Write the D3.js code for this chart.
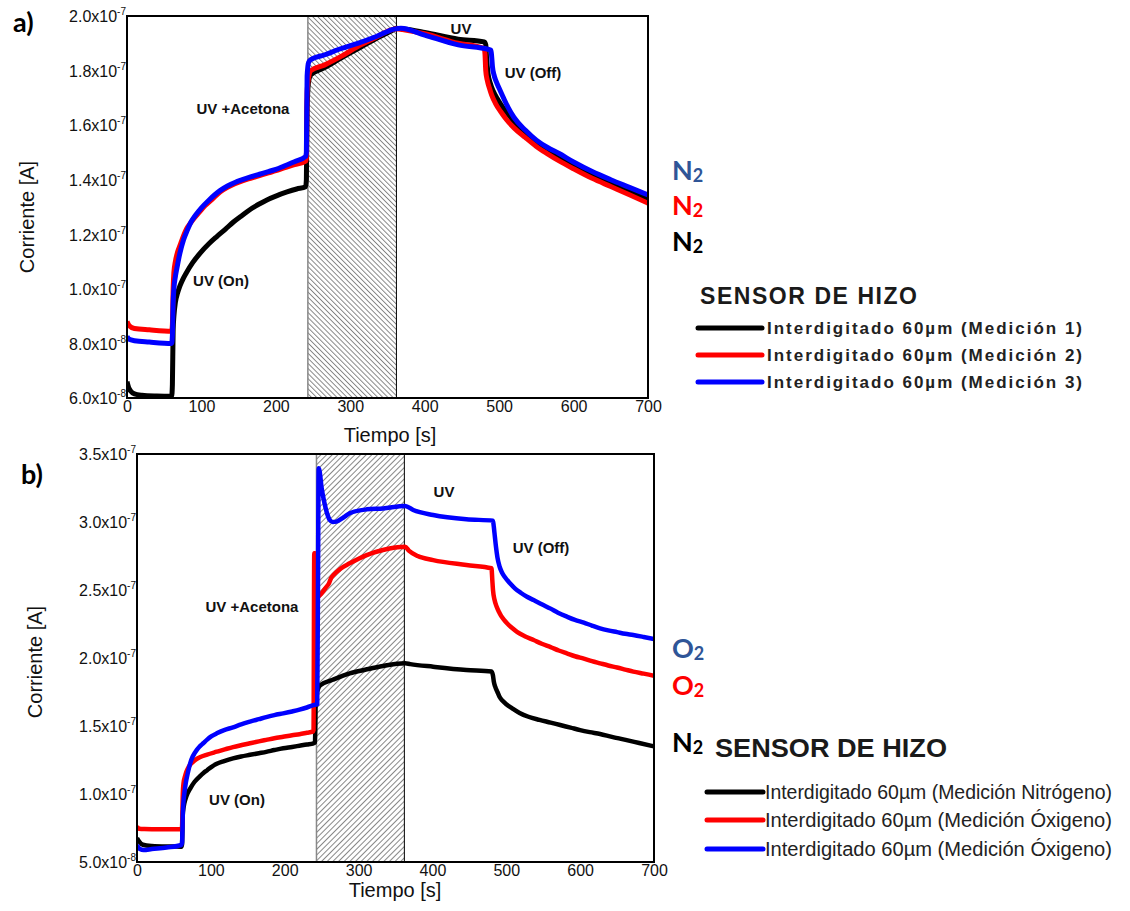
<!DOCTYPE html>
<html><head><meta charset="utf-8">
<script src="https://cdn.jsdelivr.net/npm/d3@7"></script>
<style>
html,body{margin:0;padding:0;background:#fff;}
svg{display:block;font-family:"Liberation Sans",Arial,sans-serif;}
</style></head>
<body><svg id="c" width="1130" height="911"></svg>
<script>
// ---------- DATA (currents in units of 1e-7 A, time in s) ----------
const xTicks = [0,100,200,300,400,500,600,700];
const yTicksA = [0.6,0.8,1.0,1.2,1.4,1.6,1.8,2.0];
const yMantA  = ["6.0x10","8.0x10","1.0x10","1.2x10","1.4x10","1.6x10","1.8x10","2.0x10"];
const yExpA   = ["-8","-8","-7","-7","-7","-7","-7","-7"];
const yTicksB = [0.5,1.0,1.5,2.0,2.5,3.0,3.5];
const yMantB  = ["5.0x10","1.0x10","1.5x10","2.0x10","2.5x10","3.0x10","3.5x10"];
const yExpB   = ["-8","-7","-7","-7","-7","-7","-7"];
const hatchSpan = [243, 362];

// Panel a
const aMed1 = [[0,0.66],[2,0.64],[5,0.625],[10,0.615],[20,0.61],[40,0.607],[60,0.606],[61,0.65],[62,0.85],[63,0.90],[65,0.95],[68,0.985],[71,1.01],[75,1.035],[80,1.06],[88,1.095],[98,1.13],[110,1.165],[120,1.19],[132,1.218],[143,1.245],[155,1.27],[165,1.29],[177,1.31],[188,1.326],[200,1.34],[215,1.355],[228,1.366],[240,1.374],[241,1.40],[242,1.66],[244,1.76],[247,1.785],[265,1.81],[287,1.845],[310,1.88],[333,1.915],[355,1.945],[362,1.955],[370,1.953],[400,1.94],[445,1.915],[480,1.905],[482,1.895],[483,1.85],[485,1.79],[488,1.755],[492,1.725],[498,1.695],[505,1.665],[512,1.64],[520,1.612],[535,1.57],[550,1.535],[565,1.508],[580,1.485],[600,1.455],[625,1.42],[650,1.39],[675,1.36],[700,1.33]];
const aMed2 = [[0,0.88],[3,0.865],[10,0.855],[30,0.85],[60,0.845],[61,0.87],[62,1.0],[63,1.06],[65,1.1],[68,1.135],[72,1.165],[76,1.195],[80,1.22],[85,1.24],[90,1.258],[97,1.28],[105,1.305],[115,1.33],[125,1.355],[135,1.372],[145,1.385],[155,1.396],[166,1.405],[178,1.415],[190,1.425],[200,1.433],[211,1.443],[225,1.455],[240,1.468],[241,1.48],[242,1.72],[244,1.775],[247,1.80],[265,1.82],[287,1.851],[310,1.888],[332,1.918],[355,1.949],[362,1.953],[370,1.95],[400,1.935],[445,1.90],[475,1.885],[480,1.88],[481,1.86],[482,1.80],[484,1.765],[487,1.735],[490,1.71],[495,1.68],[502,1.65],[510,1.62],[520,1.59],[535,1.555],[550,1.522],[565,1.495],[580,1.47],[600,1.44],[625,1.405],[650,1.375],[675,1.345],[700,1.314]];
const aMed3 = [[0,0.825],[3,0.815],[10,0.81],[30,0.805],[60,0.80],[61,0.83],[62,0.95],[63,1.0],[65,1.045],[67,1.075],[71,1.13],[76,1.18],[81,1.215],[86,1.245],[92,1.27],[100,1.297],[110,1.325],[118,1.345],[125,1.36],[135,1.377],[145,1.39],[155,1.40],[166,1.41],[178,1.42],[190,1.43],[200,1.438],[211,1.45],[225,1.466],[240,1.485],[241,1.50],[242,1.78],[244,1.83],[247,1.84],[265,1.857],[287,1.88],[310,1.90],[335,1.925],[359,1.952],[368,1.955],[400,1.93],[445,1.894],[485,1.878],[489,1.875],[490,1.85],[491,1.815],[493,1.785],[496,1.76],[500,1.735],[505,1.705],[512,1.665],[520,1.628],[535,1.582],[550,1.545],[565,1.518],[580,1.497],[600,1.465],[625,1.43],[650,1.40],[675,1.372],[700,1.344]];

// Panel b
const bNitro = [[0,0.675],[3,0.65],[8,0.627],[20,0.618],[40,0.614],[60,0.613],[61,0.63],[62,0.85],[63,0.90],[64,0.93],[67,0.985],[72,1.04],[78,1.09],[85,1.13],[90,1.155],[95,1.175],[101,1.2],[108,1.222],[118,1.242],[130,1.262],[141,1.276],[153,1.288],[165,1.3],[175,1.31],[186,1.323],[198,1.336],[210,1.346],[220,1.355],[230,1.364],[239,1.373],[241,1.38],[242,1.70],[245,1.77],[248,1.80],[265,1.84],[288,1.887],[310,1.915],[333,1.941],[363,1.961],[370,1.955],[401,1.936],[446,1.912],[480,1.90],[482,1.87],[483,1.83],[485,1.789],[488,1.75],[491,1.713],[495,1.685],[500,1.66],[508,1.63],[518,1.596],[530,1.568],[545,1.545],[560,1.525],[573,1.507],[587,1.488],[600,1.47],[613,1.455],[627,1.441],[643,1.42],[660,1.40],[680,1.375],[700,1.35]];
const bOxi1 = [[0,0.76],[3,0.745],[10,0.742],[30,0.74],[60,0.74],[61,0.76],[62,1.0],[63,1.08],[65,1.13],[67,1.165],[70,1.2],[73,1.222],[76,1.237],[80,1.255],[85,1.27],[95,1.29],[108,1.311],[120,1.33],[130,1.345],[142,1.36],[153,1.373],[165,1.387],[175,1.398],[186,1.41],[198,1.421],[210,1.432],[220,1.44],[230,1.45],[238,1.458],[239,1.47],[240,2.77],[241,2.77],[242,2.46],[245,2.45],[250,2.476],[256,2.52],[260,2.55],[263,2.59],[266,2.61],[275,2.655],[288,2.696],[311,2.757],[333,2.794],[363,2.818],[368,2.79],[380,2.75],[401,2.72],[446,2.684],[480,2.66],[481,2.58],[482,2.50],[484,2.43],[487,2.377],[490,2.34],[493,2.31],[497,2.28],[501,2.255],[508,2.22],[515,2.19],[525,2.16],[537,2.132],[548,2.105],[560,2.08],[571,2.055],[582,2.034],[593,2.013],[605,1.995],[616,1.977],[627,1.961],[638,1.945],[650,1.93],[661,1.915],[672,1.90],[686,1.885],[700,1.87]];
const bOxi2 = [[0,0.625],[4,0.595],[9,0.588],[20,0.595],[40,0.607],[60,0.625],[61,0.64],[62,0.85],[63,0.95],[64,1.0],[66,1.08],[69,1.16],[72,1.226],[75,1.27],[78,1.30],[81,1.325],[85,1.35],[90,1.375],[95,1.40],[101,1.425],[108,1.446],[118,1.47],[130,1.49],[141,1.512],[153,1.532],[165,1.55],[175,1.565],[186,1.58],[198,1.593],[210,1.607],[220,1.62],[230,1.636],[239,1.654],[244,1.66],[245,2.5],[246,3.395],[247,3.38],[250,3.25],[253,3.16],[257,3.07],[261,3.015],[265,3.0],[270,3.003],[280,3.035],[288,3.064],[311,3.093],[333,3.10],[363,3.118],[374,3.088],[401,3.051],[446,3.02],[482,3.01],[483,2.97],[484,2.92],[486,2.82],[488,2.74],[491,2.671],[494,2.63],[498,2.595],[505,2.549],[512,2.51],[520,2.478],[528,2.45],[537,2.426],[548,2.395],[560,2.363],[570,2.333],[582,2.304],[593,2.28],[605,2.26],[616,2.238],[627,2.218],[638,2.203],[650,2.19],[661,2.178],[672,2.169],[686,2.155],[700,2.14]];

const colors = ["#000000","#ff0000","#0000ff"];
const legendA = ["Interdigitado 60µm (Medición 1)","Interdigitado 60µm (Medición 2)","Interdigitado 60µm (Medición 3)"];
const legendB = ["Interdigitado 60µm (Medición Nitrógeno)","Interdigitado 60µm (Medición Óxigeno)","Interdigitado 60µm (Medición Óxigeno)"];
const gasA = [["N","2","#2f5597"],["N","2","#ff0000"],["N","2","#000000"]];
const gasB = [["O","2","#2f5597"],["O","2","#ff0000"],["N","2","#000000"]];

// ---------- DRAW ----------
const svg = d3.select("#c");
const defs = svg.append("defs");
function hatch(id, angle, step){
  const p = defs.append("pattern").attr("id",id).attr("patternUnits","userSpaceOnUse")
    .attr("width",step).attr("height",step).attr("patternTransform",`rotate(${angle})`);
  p.append("rect").attr("width",step).attr("height",step).attr("fill","#fff");
  p.append("line").attr("x1",0.5).attr("y1",0).attr("x2",0.5).attr("y2",step)
    .attr("stroke","#555").attr("stroke-width",0.7);
}
hatch("hA",-45,3.6);
hatch("hB",45,4.0);

function panel(o){
  const x = d3.scaleLinear().domain([0,700]).range([o.left,o.right]);
  const y = d3.scaleLinear().domain(o.yDomain).range([o.bottom,o.top]);
  const cid = "clip"+o.id;
  defs.append("clipPath").attr("id",cid).append("rect")
    .attr("x",o.left).attr("y",o.top).attr("width",o.right-o.left).attr("height",o.bottom-o.top);
  const g = svg.append("g");
  g.append("rect").attr("x",x(hatchSpan[0])).attr("y",o.top)
    .attr("width",x(hatchSpan[1])-x(hatchSpan[0])).attr("height",o.bottom-o.top)
    .attr("fill",`url(#${o.hatch})`);
  g.append("line").attr("x1",x(hatchSpan[0])).attr("x2",x(hatchSpan[0])).attr("y1",o.top).attr("y2",o.bottom)
    .attr("stroke","#888").attr("stroke-width",1.5);
  g.append("line").attr("x1",x(hatchSpan[1])).attr("x2",x(hatchSpan[1])).attr("y1",o.top).attr("y2",o.bottom)
    .attr("stroke","#000").attr("stroke-width",1);
  const line = d3.line().x(d=>x(d[0])).y(d=>y(d[1])).curve(d3.curveMonotoneX);
  o.series.forEach((s,i)=>{
    g.append("path").attr("d",line(s)).attr("fill","none").attr("stroke",colors[i])
      .attr("stroke-width",o.lw).attr("stroke-linejoin","round").attr("clip-path",`url(#${cid})`);
  });
  g.append("rect").attr("x",o.left).attr("y",o.top).attr("width",o.right-o.left).attr("height",o.bottom-o.top)
    .attr("fill","none").attr("stroke","#000").attr("stroke-width",2);
  const ya = g.append("g").attr("transform",`translate(${o.left},0)`)
    .call(d3.axisLeft(y).tickValues(o.yTicks).tickSize(0).tickPadding(1).tickFormat(""));
  ya.select(".domain").remove();
  ya.selectAll(".tick text").each(function(d,i){
    const t = d3.select(this).attr("fill","#111").attr("font-size",o.tickSize).attr("dy","0.36em")
      .attr("font-family","'Liberation Sans',Arial,sans-serif").attr("text-anchor","end");
    t.text(null);
    t.append("tspan").text(o.yMant[i]);
    t.append("tspan").attr("dy",-7).attr("font-size",10).text(o.yExp[i]);
  });
  const xa = g.append("g").attr("transform",`translate(0,${o.bottom})`)
    .call(d3.axisBottom(x).tickValues(xTicks).tickSize(0).tickPadding(3).tickFormat(d3.format("d")));
  xa.select(".domain").remove();
  xa.selectAll(".tick text").attr("fill","#111").attr("font-size",o.tickSize)
    .attr("font-family","'Liberation Sans',Arial,sans-serif");
  svg.append("text").attr("transform",`translate(${o.ytX},${o.ytY}) rotate(-90)`)
    .attr("text-anchor","middle").attr("font-size",20).attr("fill","#111").text("Corriente [A]");
  svg.append("text").attr("x",o.xtX).attr("y",o.xtY).attr("text-anchor","middle")
    .attr("font-size",20).attr("fill","#111").text("Tiempo [s]");
  o.notes.forEach(n=>{
    svg.append("text").attr("x",n[1]).attr("y",n[2]).attr("text-anchor","middle")
      .attr("dy","0.35em").attr("font-size",15).attr("font-weight","bold").attr("fill","#111").text(n[0]);
  });
  svg.append("text").attr("x",o.letter[1]).attr("y",o.letter[2]).attr("font-family","Lato,'Open Sans',sans-serif")
    .attr("font-weight","bold").attr("font-size",27).attr("fill","#000").text(o.letter[0]);
  o.gas.forEach((gl,i)=>{
    const t = svg.append("text").attr("x",o.gasX).attr("y",o.gasY[i]).attr("font-family","Lato,'Open Sans',sans-serif")
      .attr("font-weight","bold").attr("fill",gl[2]);
    t.append("tspan").attr("font-size",27).text(gl[0]);
    t.append("tspan").attr("font-size",18).attr("dy",2).text(gl[1]);
  });
  const L = o.legend;
  svg.append("text").attr("x",L.titleX).attr("y",L.titleY).attr("font-size",L.titleSize)
    .attr("font-weight","bold").attr("fill","#1a1a1a").attr("font-family",L.font)
    .attr("textLength",L.titleLen).attr("lengthAdjust",L.adjust).text("SENSOR DE HIZO");
  L.labels.forEach((lab,i)=>{
    const yy = L.rowY[i];
    svg.append("line").attr("x1",L.lineX[0]).attr("x2",L.lineX[1]).attr("y1",yy).attr("y2",yy)
      .attr("stroke",colors[i]).attr("stroke-width",5).attr("stroke-linecap","round");
    svg.append("text").attr("x",L.textX).attr("y",yy+L.baseOff).attr("font-size",L.size)
      .attr("font-weight",L.weight).attr("fill","#222").attr("font-family",L.font)
      .attr("textLength",L.textLen).attr("lengthAdjust",L.adjust).text(lab);
  });
}

panel({id:"A", left:127,right:648,top:16,bottom:398, yDomain:[0.6,2.0],
  yTicks:yTicksA, yMant:yMantA, yExp:yExpA, series:[aMed1,aMed2,aMed3], hatch:"hA", lw:5, tickSize:16,
  ytX:34, ytY:217, xtX:390, xtY:442,
  notes:[["UV +Acetona",243,109],["UV (On)",221,281],["UV",461,29],["UV (Off)",533,73]],
  letter:["a)",13,32],
  gas:gasA, gasX:672, gasY:[180,215,251],
  legend:{titleX:700,titleY:304,titleSize:23,titleLen:217,font:"'Liberation Sans',Arial,sans-serif",
    labels:legendA,rowY:[328,355,382],lineX:[698,762],textX:767,textLen:315,size:17,weight:"bold",
    baseOff:6,adjust:"spacing"}
});

panel({id:"B", left:137,right:654,top:454,bottom:862, yDomain:[0.5,3.5],
  yTicks:yTicksB, yMant:yMantB, yExp:yExpB, series:[bNitro,bOxi1,bOxi2], hatch:"hB", lw:4.5, tickSize:16,
  ytX:42, ytY:662, xtX:395, xtY:897,
  notes:[["UV +Acetona",252,607],["UV (On)",237,800],["UV",444,492],["UV (Off)",541,548]],
  letter:["b)",21,484],
  gas:gasB, gasX:672, gasY:[658,695,752],
  legend:{titleX:715,titleY:757,titleSize:25,titleLen:232,font:"'Liberation Sans Narrow','Arial Narrow','Liberation Sans',sans-serif",
    labels:legendB,rowY:[792,820,849],lineX:[707,763],textX:765,textLen:347,size:20,weight:"normal",
    baseOff:7,adjust:"spacingAndGlyphs"}
});
</script></body></html>
